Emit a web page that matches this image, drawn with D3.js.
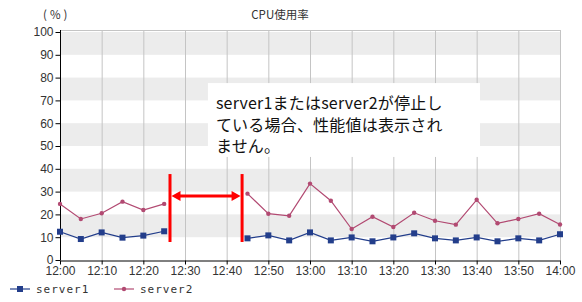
<!DOCTYPE html>
<html>
<head>
<meta charset="utf-8">
<script src="https://cdn.jsdelivr.net/npm/d3@7"></script>
<style>
  body { margin: 0; background: #fff; }
  svg { display: block; }
  .tick text { font-family: "Liberation Sans", Arial, sans-serif; font-size: 12px; fill: #333; }
  .title { font-family: "Noto Sans CJK JP", sans-serif; font-size: 11.5px; fill: #333; }
  .legend text { font-family: "DejaVu Sans Mono", monospace; font-size: 11px; fill: #333; letter-spacing: 1px; }
  .note { font-family: "Noto Sans CJK JP", sans-serif; font-size: 16px; fill: #111; letter-spacing: 0.2px; }
</style>
</head>
<body>
<div id="root"></div>
<script>
"use strict";

// minutes after 12:00, every 5 minutes
var times = [0, 5, 10, 15, 20, 25, 30, 35, 40, 45, 50, 55, 60, 65, 70, 75, 80, 85, 90, 95, 100, 105, 110, 115, 120];
var server1 = [12.4, 9.2, 12.1, 9.8, 10.7, 12.6, null, null, null, 9.5, 10.8, 8.6, 12.1, 8.6, 9.9, 8.2, 9.9, 11.7, 9.5, 8.6, 9.9, 8.2, 9.5, 8.6, 11.3];
var server2 = [24.6, 18.0, 20.5, 25.6, 21.9, 24.6, null, null, null, 29.1, 20.3, 19.4, 33.5, 26.0, 13.6, 19.0, 14.5, 20.7, 17.2, 15.5, 26.4, 16.1, 18.0, 20.3, 15.6];
var xTicks = [0, 10, 20, 30, 40, 50, 60, 70, 80, 90, 100, 110, 120];
var xTickLabels = ["12:00", "12:10", "12:20", "12:30", "12:40", "12:50", "13:00", "13:10", "13:20", "13:30", "13:40", "13:50", "14:00"];
var yTicks = [0, 10, 20, 30, 40, 50, 60, 70, 80, 90, 100];
var bands = [[10, 20], [30, 40], [50, 60], [70, 80], [90, 100]];

// gap annotation (minutes / percent)
var gapFrom = 26.4, gapTo = 43.7, gapLow = 7.9, gapHigh = 37.7, gapArrow = 28.1;
var noteLines = ["server1またはserver2が停止し", "ている場合、性能値は表示され", "ません。"];

var width = 582, height = 302;
var margin = { top: 32, right: 22, bottom: 42, left: 60 };

var svg = d3.select("#root").append("svg")
    .attr("width", width)
    .attr("height", height);

var x = d3.scaleLinear().domain([0, 120]).range([margin.left, width - margin.right]);
var y = d3.scaleLinear().domain([0, 100]).range([height - margin.bottom, margin.top]);

// background bands
svg.append("g").selectAll("rect")
    .data(bands)
    .enter()
    .append("rect")
    .attr("x", x(0))
    .attr("width", x(120) - x(0))
    .attr("y", function (d) { return y(d[1]); })
    .attr("height", function (d) { return y(d[0]) - y(d[1]); })
    .attr("fill", "#ececec");

// vertical grid
svg.append("g").selectAll("line")
    .data(xTicks.slice(1))
    .enter()
    .append("line")
    .attr("x1", function (d) { return x(d) + 0.5; })
    .attr("x2", function (d) { return x(d) + 0.5; })
    .attr("y1", y(100) - 2)
    .attr("y2", y(0))
    .attr("stroke", "#c4c4c4");

// top border
svg.append("line")
    .attr("x1", x(0)).attr("x2", x(120) + 1)
    .attr("y1", y(100) - 1.5).attr("y2", y(100) - 1.5)
    .attr("stroke", "#c4c4c4");

// axes
var yAxis = svg.append("g")
    .attr("transform", "translate(" + (x(0) + 0.5) + ",0)")
    .call(d3.axisLeft(y).tickValues(yTicks).tickSize(5).tickPadding(2));
yAxis.select(".domain").attr("d", "M0," + (y(100) - 2) + "V" + y(0));

var xAxis = svg.append("g")
    .attr("transform", "translate(0," + (y(0) + 0.5) + ")")
    .call(d3.axisBottom(x).tickValues(xTicks)
        .tickFormat(function (d, i) { return xTickLabels[i]; })
        .tickSize(4).tickPadding(2).tickSizeOuter(0));

svg.selectAll(".domain, .tick line").attr("stroke", "#000");

// titles
svg.append("text").attr("class", "title")
    .attr("x", 280).attr("y", 19).attr("text-anchor", "middle")
    .text("CPU使用率");
svg.append("text").attr("class", "title")
    .attr("x", 43).attr("y", 19)
    .style("letter-spacing", "3px")
    .text("(%)");

// series
var series = [
    { name: "server1", values: server1, color: "#233e8b", marker: "square" },
    { name: "server2", values: server2, color: "#b24a72", marker: "circle" }
];

var line = d3.line()
    .defined(function (d) { return d.v != null; })
    .x(function (d) { return x(d.t); })
    .y(function (d) { return y(d.v); });

series.forEach(function (s) {
    var pts = times.map(function (t, i) { return { t: t, v: s.values[i] }; });
    var g = svg.append("g");
    g.append("path")
        .attr("d", line(pts))
        .attr("fill", "none")
        .attr("stroke", s.color)
        .attr("stroke-width", 1.2);
    var valid = pts.filter(function (d) { return d.v != null; });
    if (s.marker === "square") {
        g.selectAll("rect").data(valid).enter().append("rect")
            .attr("x", function (d) { return x(d.t) - 3; })
            .attr("y", function (d) { return y(d.v) - 3; })
            .attr("width", 6).attr("height", 6)
            .attr("fill", s.color);
    } else {
        g.selectAll("circle").data(valid).enter().append("circle")
            .attr("cx", function (d) { return x(d.t); })
            .attr("cy", function (d) { return y(d.v); })
            .attr("r", 2.2)
            .attr("fill", s.color);
    }
});

// gap annotation
var red = "#ff0000";
[gapFrom, gapTo].forEach(function (m) {
    svg.append("line")
        .attr("x1", x(m)).attr("x2", x(m))
        .attr("y1", y(gapHigh)).attr("y2", y(gapLow))
        .attr("stroke", red).attr("stroke-width", 3);
});
var ay = y(gapArrow), ax1 = x(gapFrom) + 1.5, ax2 = x(gapTo) - 1.5;
svg.append("line")
    .attr("x1", ax1 + 8).attr("x2", ax2 - 8)
    .attr("y1", ay).attr("y2", ay)
    .attr("stroke", red).attr("stroke-width", 3);
svg.append("path")
    .attr("d", "M" + ax1 + "," + ay + "l9,-5v10z M" + ax2 + "," + ay + "l-9,-5v10z")
    .attr("fill", red);

// note box
var bx1 = x(35.5), bx2 = x(100.8), by1 = y(77.6), by2 = y(45.2);
svg.append("rect")
    .attr("x", bx1).attr("y", by1)
    .attr("width", bx2 - bx1).attr("height", by2 - by1)
    .attr("fill", "#fff");
svg.append("g").selectAll("text")
    .data(noteLines)
    .enter()
    .append("text")
    .attr("class", "note")
    .attr("x", bx1 + 8)
    .attr("y", function (d, i) { return by1 + 26 + i * 21.7; })
    .text(function (d) { return d; });

// legend
var legend = svg.append("g").attr("class", "legend");
var legendX = [10, 114];
series.forEach(function (s, i) {
    var lg = legend.append("g").attr("transform", "translate(" + legendX[i] + ",289)");
    lg.append("line").attr("x1", 0).attr("x2", 20).attr("stroke", s.color).attr("stroke-width", 1.2);
    if (s.marker === "square") {
        lg.append("rect").attr("x", 7).attr("y", -3).attr("width", 6).attr("height", 6).attr("fill", s.color);
    } else {
        lg.append("circle").attr("cx", 10).attr("r", 2.2).attr("fill", s.color);
    }
    lg.append("text").attr("x", 26).attr("y", 4).text(s.name);
});
</script>
</body>
</html>
